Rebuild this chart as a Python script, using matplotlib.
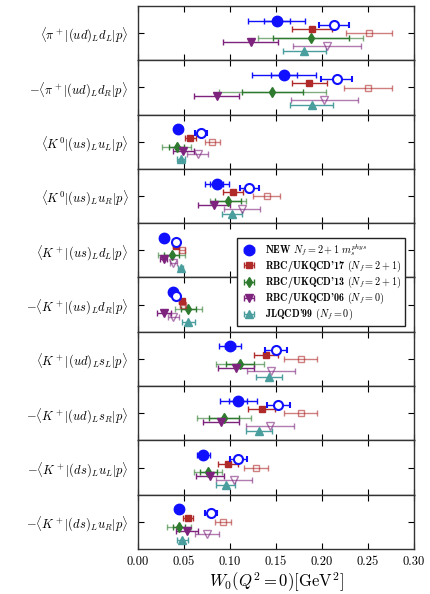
import matplotlib.pyplot as plt

labels = [r"$\langle \pi^+|(ud)_L d_L|p\rangle$",
          r"$-\langle \pi^+|(ud)_L d_R|p\rangle$",
          r"$\langle K^0|(us)_L u_L|p\rangle$",
          r"$\langle K^0|(us)_L u_R|p\rangle$",
          r"$\langle K^+|(us)_L d_L|p\rangle$",
          r"$-\langle K^+|(us)_L d_R|p\rangle$",
          r"$\langle K^+|(ud)_L s_L|p\rangle$",
          r"$-\langle K^+|(ud)_L s_R|p\rangle$",
          r"$-\langle K^+|(ds)_L u_L|p\rangle$",
          r"$-\langle K^+|(ds)_L u_R|p\rangle$"]

# NEW, filled: value, stat error, total error
new_f = [0.151, 0.159, 0.044, 0.0855, 0.028, 0.0385, 0.100, 0.109, 0.071, 0.0446]
new_f_stat = [0.014, 0.014, 0.002, 0.007, 0.002, 0.002, 0.005, 0.010, 0.004, 0.002]
new_f_tot = [0.031, 0.035, 0.004, 0.013, 0.003, 0.004, 0.012, 0.020, 0.007, 0.004]
# NEW, open
new_o = [0.213, 0.216, 0.0685, 0.121, 0.0413, 0.041, 0.150, 0.1525, 0.109, 0.079]
new_o_err = [0.0165, 0.017, 0.0065, 0.0103, 0.003, 0.003, 0.0117, 0.0125, 0.0094, 0.0064]
# RBC/UKQCD'17
rbc17_f = [0.189, 0.186, 0.057, 0.1036, 0.041, 0.0475, 0.139, 0.1344, 0.0975, 0.0547]
rbc17_f_err = [0.0215, 0.019, 0.006, 0.011, 0.003, 0.003, 0.013, 0.0145, 0.011, 0.0054]
rbc17_o = [0.2507, 0.2496, 0.0808, 0.1399, 0.048, 0.0486, 0.1768, 0.1768, 0.1283, 0.0928]
rbc17_o_err = [0.025, 0.026, 0.008, 0.015, 0.003, 0.003, 0.018, 0.018, 0.0127, 0.0087]
# RBC/UKQCD'13
rbc13 = [0.188, 0.146, 0.042, 0.0982, 0.0366, 0.0547, 0.1109, 0.0935, 0.0764, 0.0446]
rbc13_stat = [0.041, 0.033, 0.008, 0.014, 0.008, 0.008, 0.015, 0.016, 0.009, 0.007]
rbc13_tot = [0.057, 0.058, 0.0155, 0.0195, 0.0145, 0.0145, 0.0266, 0.029, 0.0155, 0.013]
# RBC/UKQCD'06
rbc06_f = [0.1225, 0.0855, 0.0495, 0.0826, 0.028, 0.0283, 0.1065, 0.0899, 0.0783, 0.0536]
rbc06_f_err = [0.030, 0.0245, 0.011, 0.0175, 0.004, 0.0077, 0.020, 0.0195, 0.015, 0.0118]
rbc06_o = [0.205, 0.2022, 0.065, 0.1134, 0.0384, 0.0384, 0.1446, 0.1435, 0.1047, 0.0754]
rbc06_o_err = [0.037, 0.0364, 0.0115, 0.0197, 0.0036, 0.006, 0.026, 0.0257, 0.0196, 0.0132]
# JLQCD'99
jlqcd = [0.1808, 0.189, 0.047, 0.1025, 0.0464, 0.0547, 0.1428, 0.1315, 0.0953, 0.0482]
jlqcd_err = [0.0235, 0.0235, 0.0045, 0.011, 0.003, 0.007, 0.014, 0.014, 0.0105, 0.006]

legend_labels = [r"NEW $N_f=2+1\ m_s^{phys}$",
                 r"RBC/UKQCD'17 $(N_f=2+1)$",
                 r"RBC/UKQCD'13 $(N_f=2+1)$",
                 r"RBC/UKQCD'06 $(N_f=0)$",
                 r"JLQCD'99 $(N_f=0)$"]

xticks = [0.00, 0.05, 0.10, 0.15, 0.20, 0.25, 0.30]

plt.rcParams['font.family'] = 'serif'
plt.rcParams['font.serif'] = ['cmr10']
plt.rcParams['mathtext.fontset'] = 'cm'
plt.rcParams['axes.unicode_minus'] = False
plt.rcParams['axes.formatter.use_mathtext'] = True

blue = '#1010ff'
red = '#b02a2a'
green = '#2e7a2e'
purple = '#7d237d'
teal = '#4a9e9e'

fig, axes = plt.subplots(10, 1, figsize=(4.31, 5.94), dpi=100, sharex=True)
fig.subplots_adjust(left=0.32, right=0.9606, top=0.99, bottom=0.0758, hspace=0)

handles = []
for i in range(10):
    ax = axes[i]
    h1 = ax.errorbar(new_f[i], 0.27, xerr=new_f_tot[i], fmt='o', color=blue, ms=7.5,
                     capsize=2, elinewidth=1, zorder=5)
    ax.errorbar(new_f[i], 0.27, xerr=new_f_stat[i], fmt='none', ecolor=blue,
                capsize=2, elinewidth=1, zorder=5)
    ax.errorbar(new_o[i], 0.345, xerr=new_o_err[i], fmt='o', color=blue, ms=6.5,
                mfc='white', mew=1.5, capsize=2, elinewidth=1, zorder=5)

    h2 = ax.errorbar(rbc17_f[i], 0.427, xerr=rbc17_f_err[i], fmt='s', color=red, ms=5,
                     capsize=2, elinewidth=1, zorder=4)
    ax.errorbar(rbc17_o[i], 0.503, xerr=rbc17_o_err[i], fmt='s', color=red, ms=5,
                mfc='none', capsize=2, elinewidth=1, alpha=0.6, zorder=4)

    h3 = ax.errorbar(rbc13[i], 0.589, xerr=rbc13_stat[i], fmt='d', color=green, ms=5,
                     capsize=2, elinewidth=1, zorder=3)
    ax.errorbar(rbc13[i], 0.589, xerr=rbc13_tot[i], fmt='none', ecolor=green,
                capsize=2, elinewidth=1, alpha=0.6, zorder=3)

    h4 = ax.errorbar(rbc06_f[i], 0.663, xerr=rbc06_f_err[i], fmt='v', color=purple, ms=5.5,
                     capsize=2, elinewidth=1, zorder=3)
    ax.errorbar(rbc06_o[i], 0.731, xerr=rbc06_o_err[i], fmt='v', color=purple, ms=5.5,
                mfc='none', capsize=2, elinewidth=1, alpha=0.6, zorder=3)

    h5 = ax.errorbar(jlqcd[i], 0.827, xerr=jlqcd_err[i], fmt='^', color=teal, ms=5.5,
                     capsize=2, elinewidth=1, zorder=3)
    if i == 0:
        handles = [h1, h2, h3, h4, h5]

    ax.set_ylim(1, 0)
    ax.set_xlim(0, 0.30)
    ax.set_yticks([0.5])
    ax.set_yticklabels([labels[i]], fontsize=11.5)
    ax.set_xticks(xticks)
    ax.tick_params(direction='in', top=True, right=True, length=4, width=0.8,
                   labelsize=9, pad=5)
    ax.tick_params(axis='y', pad=7)
    for s in ax.spines.values():
        s.set_color('#333333')
        s.set_linewidth(1)

axes[-1].set_xticklabels(['%.2f' % t for t in xticks])
axes[-1].set_xlabel(r"$W_0(Q^2=0)[\mathrm{GeV}^2]$", fontsize=12, labelpad=2)

leg = fig.legend(handles, legend_labels, loc='upper left',
                 bbox_to_anchor=(237 / 431, 1 - 238 / 594), borderaxespad=0,
                 prop={'family': 'cmb10', 'size': 7.3}, fancybox=False,
                 framealpha=1, edgecolor='#222222', handlelength=1.6,
                 labelspacing=0.08, borderpad=0.35)
leg.get_frame().set_linewidth(1)

fig.savefig('out.png', dpi=100)
